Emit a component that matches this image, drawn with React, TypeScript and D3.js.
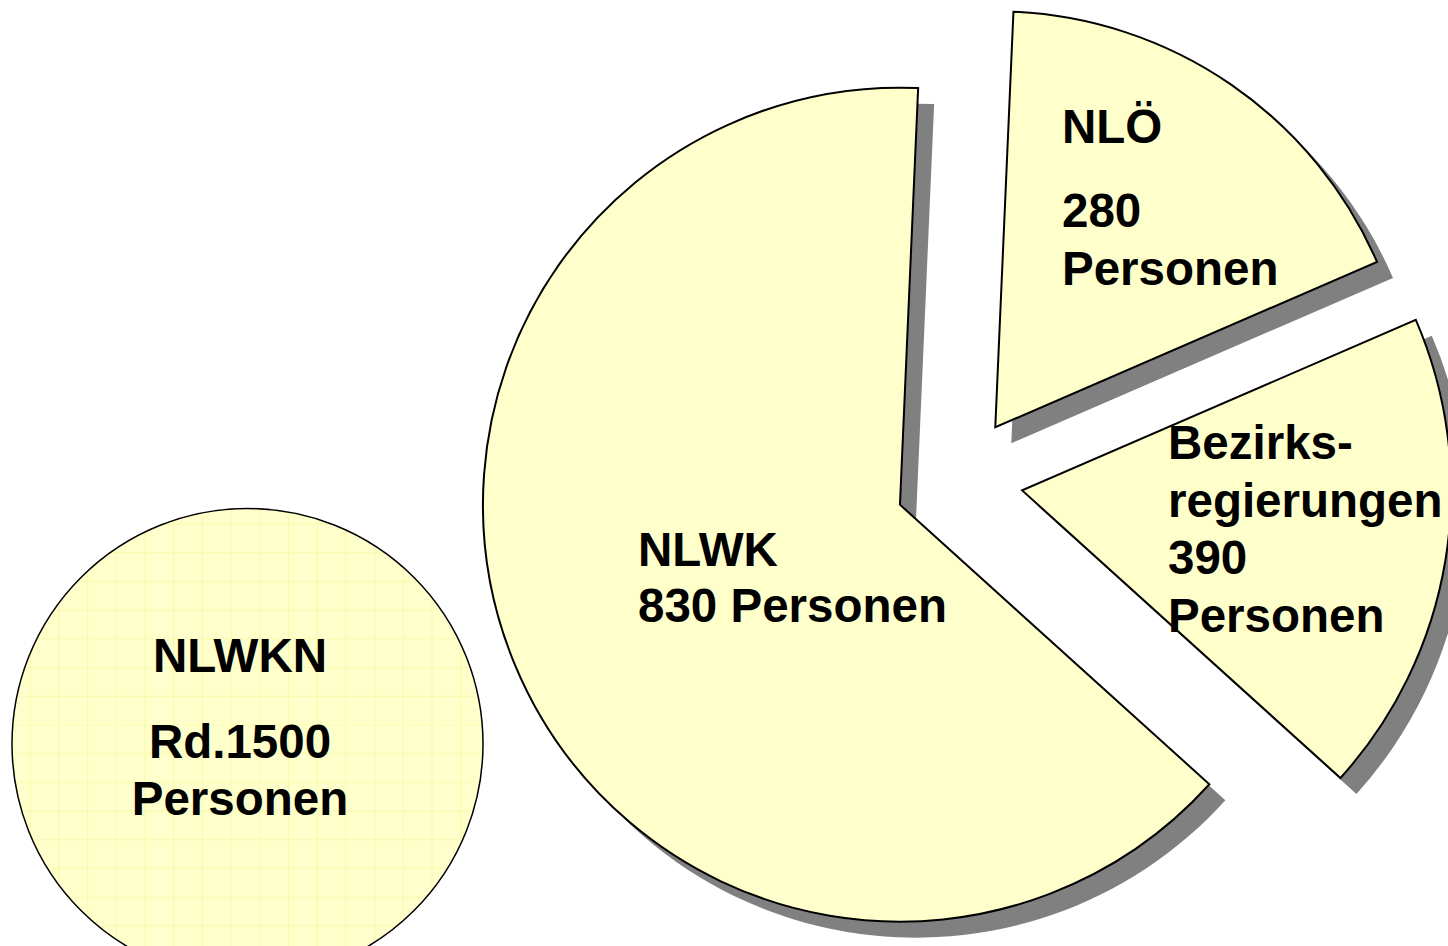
import React from "react";
import * as d3 from "d3";

// data
const categories = ["NLÖ", "Bezirksregierungen", "NLWK"];
const personen = [280, 390, 830];
// share of the circle each slice takes as drawn (the drawing is not proportional)
const drawnShare = [17.8, 18.2, 64.0];
const totalName = "NLWKN";
const totalPersonen = 1500;

const W = 1448;
const H = 946;
const FILL = "#ffffcc";
const SHADOW = "#808080";
const FONT = "'Liberation Sans', Arial, Helvetica, sans-serif";
const FS = 47.5;

// pie layout
const cx = 959;
const cy = 480;
const explode = 64;
const radii = [416, 429, 417];
const startDeg = 2.5;
const shadowOff = 16;

// label layout per slice: left x, baselines
const labelLayout = [
  { x: 1062, ys: [143, 227, 285] },
  { x: 1168, ys: [459, 517, 574, 632] },
  { x: 638, ys: [566, 622] },
];

const labelLines = [
  [categories[0], `${personen[0]}`, "Personen"],
  ["Bezirks-", "regierungen", `${personen[1]}`, "Personen"],
  [categories[2], `${personen[2]} Personen`],
];

// separate circle
const circ = { x: 247.5, y: 744, r: 235.5, tx: 240, ys: [672, 758, 815] };

export default function App() {
  const pie = d3
    .pie<number>()
    .sort(null)
    .value((d) => d)
    .startAngle((startDeg * Math.PI) / 180)
    .endAngle((startDeg * Math.PI) / 180 + 2 * Math.PI);
  const arcs = pie(drawnShare);

  const slices = arcs.map((a, i) => {
    const mid = (a.startAngle + a.endAngle) / 2;
    const dx = Math.sin(mid) * explode;
    const dy = -Math.cos(mid) * explode;
    const path = d3.arc<any>().innerRadius(0).outerRadius(radii[i])(a) as string;
    return { path, tx: cx + dx, ty: cy + dy };
  });

  return (
    <svg
      width={W}
      height={H}
      style={{ position: "absolute", left: 0, top: 0, background: "#fff" }}
    >
      <defs>
        <pattern id="grid" patternUnits="userSpaceOnUse" x={1} y={7} width={28.7} height={28.7}>
          <rect width={28.7} height={28.7} fill={FILL} />
          <path d="M 0 0 L 28.7 0 M 0 0 L 0 28.7" stroke="#f6f690" strokeWidth={1.2} fill="none" />
        </pattern>
      </defs>

      {/* NLWKN circle */}
      <circle cx={circ.x} cy={circ.y} r={circ.r} fill="url(#grid)" stroke="#000" strokeWidth={1.5} />
      <g fontFamily={FONT} fontWeight="bold" fontSize={FS} textAnchor="middle" fill="#000">
        <text x={circ.tx} y={circ.ys[0]}>{totalName}</text>
        <text x={circ.tx} y={circ.ys[1]}>{`Rd.${totalPersonen}`}</text>
        <text x={circ.tx} y={circ.ys[2]}>Personen</text>
      </g>

      {/* shadows */}
      {slices.map((s, i) => (
        <path
          key={"sh" + i}
          d={s.path}
          transform={`translate(${s.tx + shadowOff},${s.ty + shadowOff})`}
          fill={SHADOW}
        />
      ))}
      {/* slices */}
      {slices.map((s, i) => (
        <path
          key={"sl" + i}
          d={s.path}
          transform={`translate(${s.tx},${s.ty})`}
          fill={FILL}
          stroke="#000"
          strokeWidth={2}
          strokeLinejoin="miter"
        />
      ))}

      {/* labels */}
      <g fontFamily={FONT} fontWeight="bold" fontSize={FS} fill="#000">
        {labelLines.map((lines, i) =>
          lines.map((t, j) => (
            <text key={i + "-" + j} x={labelLayout[i].x} y={labelLayout[i].ys[j]}>
              {t}
            </text>
          ))
        )}
      </g>
    </svg>
  );
}
